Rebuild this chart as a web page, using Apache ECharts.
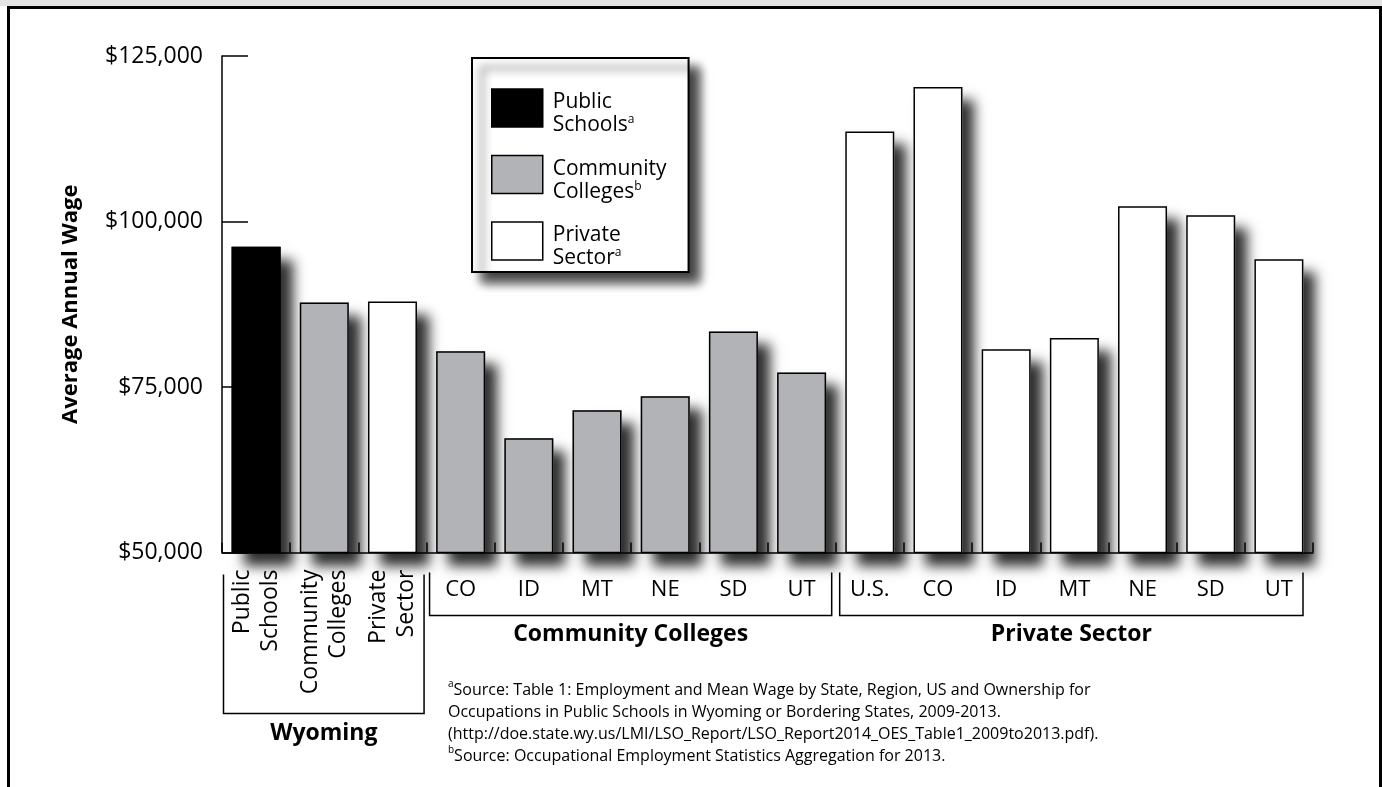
<!DOCTYPE html>
<html>
<head>
<meta charset="utf-8">
<title>Average Annual Wage</title>
<script src="https://cdn.jsdelivr.net/npm/echarts@6/dist/echarts.min.js"></script>
<style>
  html, body { margin: 0; padding: 0; background: #fff; }
  #band { position: absolute; left: 0; top: 0; width: 1382px; height: 6px; background: #e2e3e5; }
  #frame { position: absolute; left: 7px; top: 6px; width: 1375px; height: 800px; box-sizing: border-box;
           border: 3px solid #000; border-bottom: none; background: #fff; }
  #chart { position: absolute; left: 0; top: 0; width: 1382px; height: 787px; }
</style>
</head>
<body>
<div id="band"></div>
<div id="frame"></div>
<div id="chart"></div>
<script>
// Category labels
const wyomingLabels = ['Public\nSchools', 'Community\nColleges', 'Private\nSector'];
const collegeStates = ['CO', 'ID', 'MT', 'NE', 'SD', 'UT'];
const privateStates = ['U.S.', 'CO', 'ID', 'MT', 'NE', 'SD', 'UT'];

// Average annual wage (USD)
const wyomingWages = [96200, 87750, 87900];           // public schools, community colleges, private sector
const collegeWages = [80400, 67250, 71500, 73600, 83400, 77200];
const privateWages = [113600, 120300, 80700, 82400, 102300, 100950, 94300];

// Value axis ticks
const yTicks = [50000, 75000, 100000, 125000];

const seriesNames = ['Public Schools', 'Community Colleges', 'Private Sector'];
const seriesColors = ['#000000', '#b1b3b6', '#ffffff'];
const legendLabels = ['Public\nSchools{sup|a}', 'Community\nColleges{sup|b}', 'Private\nSector{sup|a}'];
const groupLabels = ['Wyoming', 'Community Colleges', 'Private Sector'];
const footnotes = [
  '{sup|a}Source: Table 1: Employment and Mean Wage by State, Region, US and Ownership for',
  'Occupations in Public Schools in Wyoming or Bordering States, 2009-2013.',
  '(http://doe.state.wy.us/LMI/LSO_Report/LSO_Report2014_OES_Table1_2009to2013.pdf).',
  '{sup|b}Source: Occupational Employment Statistics Aggregation for 2013.'
];

const FONT = '"Open Sans", "Noto Sans", sans-serif';
const categories = [...wyomingLabels, ...collegeStates, ...privateStates];
const nW = wyomingLabels.length, nC = collegeStates.length;
const blank = '-';

const publicData = categories.map((_, i) => (i === 0 ? wyomingWages[0] : blank));
const collegeData = categories.map((_, i) =>
  i === 1 ? wyomingWages[1] : (i >= nW && i < nW + nC ? collegeWages[i - nW] : blank));
const privateData = categories.map((_, i) =>
  i === 2 ? wyomingWages[2] : (i >= nW + nC ? privateWages[i - nW - nC] : blank));
const seriesData = [publicData, collegeData, privateData];

// One filled layer (left to right, so each bar sits above its neighbour's shadow)
const fillData = categories.map((_, i) => {
  const k = seriesData.findIndex(d => d[i] !== blank);
  return { value: seriesData[k][i], itemStyle: { color: seriesColors[k] } };
});

const chart = echarts.init(document.getElementById('chart'), null, { renderer: 'canvas' });

const barCommon = { type: 'bar', barWidth: 49, barGap: '-100%', animation: false, emphasis: { disabled: true } };

const fillSeries = Object.assign({}, barCommon, {
  name: 'fill',
  data: fillData,
  itemStyle: {
    borderWidth: 0,
    shadowColor: 'rgba(0,0,0,0.82)',
    shadowBlur: 12,
    shadowOffsetX: 12,
    shadowOffsetY: 13
  }
});

// Outlines drawn on top, one series per sector
const outlineSeries = seriesNames.map((name, k) => Object.assign({}, barCommon, {
  name,
  data: seriesData[k],
  itemStyle: { color: 'rgba(0,0,0,0)', borderColor: '#000', borderWidth: 1.5 }
}));

chart.setOption({
  backgroundColor: 'transparent',
  animation: false,
  textStyle: { fontFamily: FONT },
  grid: { left: 222, right: 69, top: 56, bottom: 234.5, containLabel: false, outerBoundsMode: 'none' },
  legend: {
    orient: 'vertical',
    left: 472,
    top: 58,
    padding: [21, 22, 2, 19],
    itemWidth: 51,
    itemHeight: 38,
    itemGap: 8.5,
    icon: 'rect',
    selectedMode: false,
    backgroundColor: '#fff',
    borderColor: '#000',
    borderWidth: 2,
    shadowColor: 'rgba(0,0,0,0.75)',
    shadowBlur: 10,
    shadowOffsetX: 10,
    shadowOffsetY: 10,
    formatter: name => legendLabels[seriesNames.indexOf(name)],
    textStyle: {
      fontFamily: FONT, fontSize: 21, lineHeight: 23, color: '#000', padding: [12, 0, 0, 5],
      rich: { sup: { fontFamily: FONT, fontSize: 12, lineHeight: 23, verticalAlign: 'top', color: '#000' } }
    },
    data: seriesNames.map((name, k) => ({
      name,
      itemStyle: { color: seriesColors[k], borderColor: '#000', borderWidth: 1.5, shadowBlur: 0, shadowColor: 'rgba(0,0,0,0)' }
    }))
  },
  xAxis: [
    {
      type: 'category',
      data: categories,
      position: 'bottom',
      axisLine: { show: true, lineStyle: { color: '#000', width: 1.5 } },
      axisTick: { show: true, inside: true, length: 10, lineStyle: { color: '#000', width: 1.5 } },
      splitLine: { show: false },
      axisLabel: {
        interval: 0, margin: 26, fontSize: 22, color: '#000', fontFamily: FONT,
        formatter: (v, i) => (i < nW ? '' : v)
      }
    },
    {
      type: 'category',
      data: categories,
      position: 'bottom',
      axisLine: { show: false },
      axisTick: { show: false },
      splitLine: { show: false },
      axisLabel: {
        interval: 0, rotate: 90, margin: 17, fontSize: 23, lineHeight: 28, color: '#000', fontFamily: FONT,
        formatter: (v, i) => (i < nW ? v : '')
      }
    }
  ],
  yAxis: {
    type: 'value',
    min: yTicks[0],
    max: yTicks[yTicks.length - 1],
    interval: yTicks[1] - yTicks[0],
    name: 'Average Annual Wage',
    nameLocation: 'middle',
    nameRotate: 90,
    nameGap: 140,
    nameTextStyle: { fontFamily: FONT, fontSize: 22, fontWeight: 'bold', color: '#000' },
    axisLine: { show: true, lineStyle: { color: '#000', width: 1.5 } },
    axisTick: { show: true, inside: true, length: 26, lineStyle: { color: '#000', width: 1.5 } },
    splitLine: { show: false },
    axisLabel: {
      margin: 19, fontSize: 23, color: '#000', fontFamily: FONT,
      formatter: v => '$' + v.toLocaleString('en-US')
    }
  },
  series: [fillSeries, ...outlineSeries]
});

// Group brackets and captions under the category labels
const center = i => chart.convertToPixel({ xAxisIndex: 0 }, i);
const band = center(1) - center(0);
const edge = i => center(0) - band / 2 + i * band;
const base = chart.convertToPixel({ yAxisIndex: 0 }, yTicks[0]);

const brackets = [
  { x0: edge(0) + 1.5, x1: edge(nW) - 2.5, top: base + 22, bottom: base + 161, labelY: base + 181 },
  { x0: edge(nW) + 3, x1: edge(nW + nC) - 4, top: base + 20, bottom: base + 63, labelY: base + 82 },
  { x0: edge(nW + nC) + 4, x1: edge(categories.length) - 10, top: base + 20, bottom: base + 63, labelY: base + 82 }
];

const graphics = [];
brackets.forEach((b, k) => {
  graphics.push({
    type: 'polyline',
    shape: { points: [[b.x0, b.top], [b.x0, b.bottom], [b.x1, b.bottom], [b.x1, b.top]] },
    style: { stroke: '#000', lineWidth: 1.5, fill: null }
  });
  graphics.push({
    type: 'text',
    x: (b.x0 + b.x1) / 2,
    y: b.labelY,
    style: {
      text: groupLabels[k], fontFamily: FONT, fontSize: 23, fontWeight: 'bold', fill: '#000',
      textAlign: 'center', textVerticalAlign: 'middle'
    }
  });
});

graphics.push({
  type: 'text',
  x: 448,
  y: 679,
  style: {
    text: footnotes.join('\n'),
    fontFamily: FONT, fontSize: 16, lineHeight: 22, fill: '#000',
    rich: { sup: { fontFamily: FONT, fontSize: 10, lineHeight: 22, verticalAlign: 'top', fill: '#000' } }
  }
});

chart.setOption({ graphic: { elements: graphics } });
</script>
</body>
</html>
